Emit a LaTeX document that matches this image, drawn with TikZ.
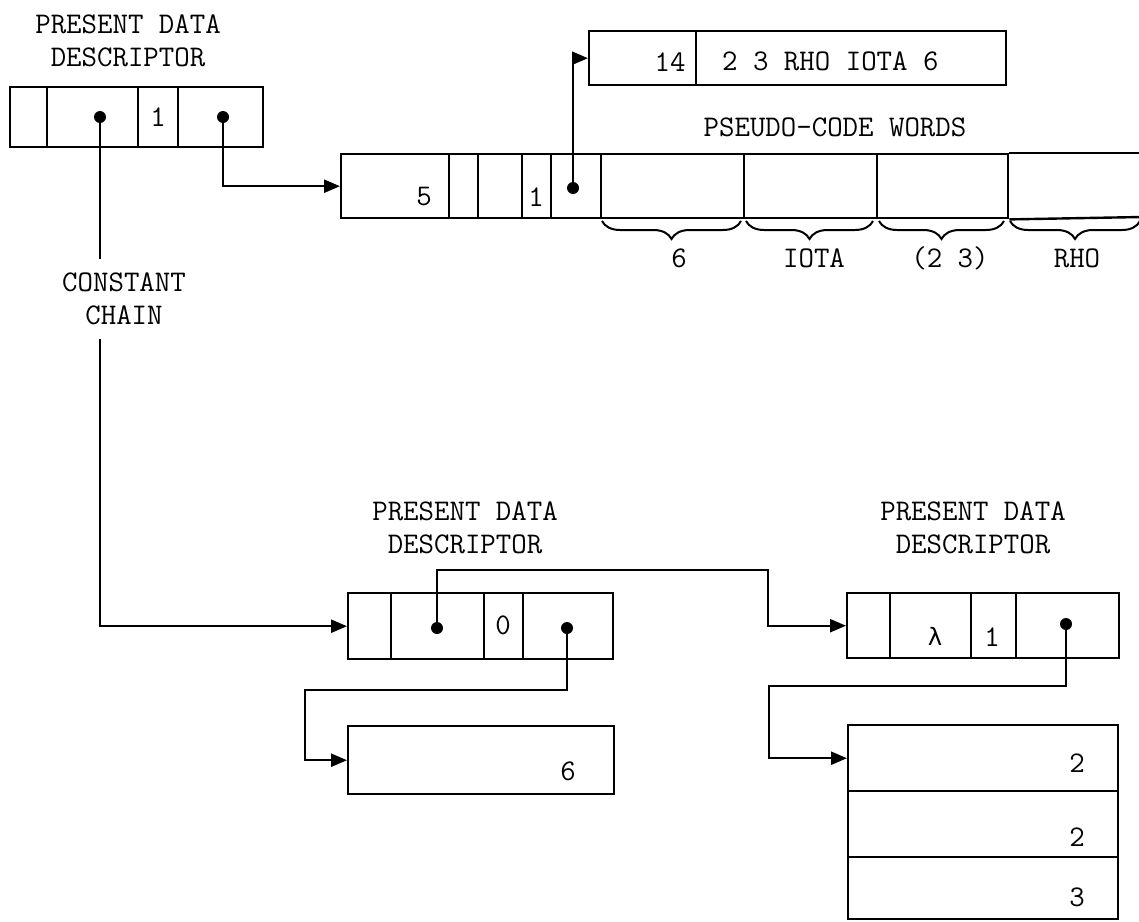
\documentclass[tikz,border=0pt]{standalone}
\usepackage{fontspec}
\newfontfamily\greekmono{DejaVu Sans Mono}
\usetikzlibrary{arrows.meta,decorations.pathreplacing,calc}
\begin{document}
\begin{tikzpicture}[x=1pt,y=-1pt,
  every node/.style={font=\ttfamily\fontsize{30}{33}\selectfont},
  cell/.style={draw,line width=2.4pt,inner sep=0pt,anchor=north west},
  dot/.style={circle,fill,inner sep=0pt,minimum size=12pt},
  txt/.style={inner sep=0pt},
  conn/.style={line width=2.4pt},
  arr/.style={conn,-{Triangle[length=16pt,width=13pt]}},
  brc/.style={line width=2pt,decorate,decoration={brace,mirror,amplitude=18pt,aspect=0.5}}
]
\useasboundingbox (0,0) rectangle (1139,921);

% ---------- top-left descriptor ----------
\node[txt,align=center] (h1) at (128,41) {PRESENT DATA\\DESCRIPTOR};
\node[cell,minimum width=37pt,minimum height=60pt] (a1) at (9,86) {};
\node[cell,minimum width=91pt,minimum height=60pt] (a2) at (46,86) {};
\node[cell,minimum width=40pt,minimum height=60pt] (a3) at (137,86) {};
\node[cell,minimum width=85pt,minimum height=60pt] (a4) at (177,86) {};
\node[txt] (a3t) at (a3.center) {1};
\node[dot] (p1) at (100,117) {};
\node[dot] (p2) at (223,117) {};

% ---------- long box (pseudo-code words) ----------
\node[cell,minimum width=108pt,minimum height=64pt] (b1) at (340,153) {};
\node[cell,minimum width=29pt,minimum height=64pt] (b2) at (448,153) {};
\node[cell,minimum width=44pt,minimum height=64pt] (b3) at (477,153) {};
\node[cell,minimum width=29pt,minimum height=64pt] (b4) at (521,153) {};
\node[cell,minimum width=50pt,minimum height=64pt] (b5) at (550,153) {};
\node[cell,minimum width=143pt,minimum height=64pt] (b6) at (600,153) {};
\node[cell,minimum width=133pt,minimum height=64pt] (b7) at (743,153) {};
\node[cell,minimum width=131pt,minimum height=64pt] (b8) at (876,153) {};
\draw[conn] (b8.north east) -- (1142,153);
\draw[conn] (b8.south east) -- (1142,217);
\node[txt] (b1t) at (424,197) {5};
\node[txt] (b4t) at (536,197) {1};
\node[dot] (p3) at (573,188) {};
\node[txt] (pcw) at (835,127) {PSEUDO-CODE WORDS};

\draw[brc] (602,221) -- (741,221);
\draw[brc] (746,221) -- (873,221);
\draw[brc] (879,221) -- (1004,221);
\draw[brc] (1010,221) -- (1140,221);
\node[txt] (w1) at (679,258) {6};
\node[txt] (w2) at (814,258) {IOTA};
\node[txt] (w3) at (950,258) {(2 3)};
\node[txt] (w4) at (1077,258) {RHO};

% ---------- top box ----------
\node[cell,minimum width=107pt,minimum height=54pt] (t1) at (588,30) {};
\node[cell,minimum width=310pt,minimum height=54pt] (t2) at (695,30) {};
\node[txt] (t1t) at (670,62) {14};
\node[txt,anchor=west] (t2t) at (722,61) {2 3 RHO IOTA 6};

% ---------- constant chain label ----------
\node[txt,align=center,inner ysep=14pt] (cc) at (124,299) {CONSTANT\\CHAIN};

% ---------- bottom middle descriptor ----------
\node[txt,align=center] (h2) at (465,528) {PRESENT DATA\\DESCRIPTOR};
\node[cell,minimum width=43pt,minimum height=66pt] (c1) at (347,592) {};
\node[cell,minimum width=93pt,minimum height=66pt] (c2) at (390,592) {};
\node[cell,minimum width=39pt,minimum height=66pt] (c3) at (483,592) {};
\node[cell,minimum width=90pt,minimum height=66pt] (c4) at (522,592) {};
\node[txt] (c3t) at (503,625) {0};
\node[dot] (p4) at (437,628) {};
\node[dot] (p5) at (567,628) {};

\node[cell,minimum width=266pt,minimum height=68pt] (f1) at (347,725) {};
\node[txt] (f1t) at (568,771) {6};

% ---------- bottom right descriptor ----------
\node[txt,align=center] (h3) at (973,528) {PRESENT DATA\\DESCRIPTOR};
\node[cell,minimum width=43pt,minimum height=65pt] (e1) at (846,592) {};
\node[cell,minimum width=81pt,minimum height=65pt] (e2) at (889,592) {};
\node[cell,minimum width=45pt,minimum height=65pt] (e3) at (970,592) {};
\node[cell,minimum width=103pt,minimum height=65pt] (e4) at (1015,592) {};
\node[txt,font=\greekmono\fontsize{24}{28}\selectfont] (e2t) at (935,636) {λ};
\node[txt] (e3t) at (992,637) {1};
\node[dot] (p6) at (1066,624) {};

\node[cell,minimum width=270pt,minimum height=66pt] (s1) at (847,724) {};
\node[cell,minimum width=270pt,minimum height=66pt] (s2) at (847,790) {};
\node[cell,minimum width=270pt,minimum height=62pt] (s3) at (847,856) {};
\node[txt] (s1t) at (1077,763) {2};
\node[txt] (s2t) at (1077,837) {2};
\node[txt] (s3t) at (1077,897) {3};

% ---------- connectors ----------
\coordinate (k1) at (768,570);
\coordinate (k2) at (305,690);
\coordinate (k3) at (769,686);
\draw[conn] (p1.center) -- (p1.center |- cc.north);
\draw[arr] (p1.center |- cc.south) |- (c1.west);
\draw[arr] (p2.center) |- (b1.west);
\draw[arr] (p3.center) |- (t1.west);
\draw[arr] (p4.center) |- (k1) |- (e1.west);
\draw[arr] (p5.center) |- (k2) |- (f1.west);
\draw[arr] (p6.center) |- (k3) |- (s1.west);
\end{tikzpicture}
\end{document}
